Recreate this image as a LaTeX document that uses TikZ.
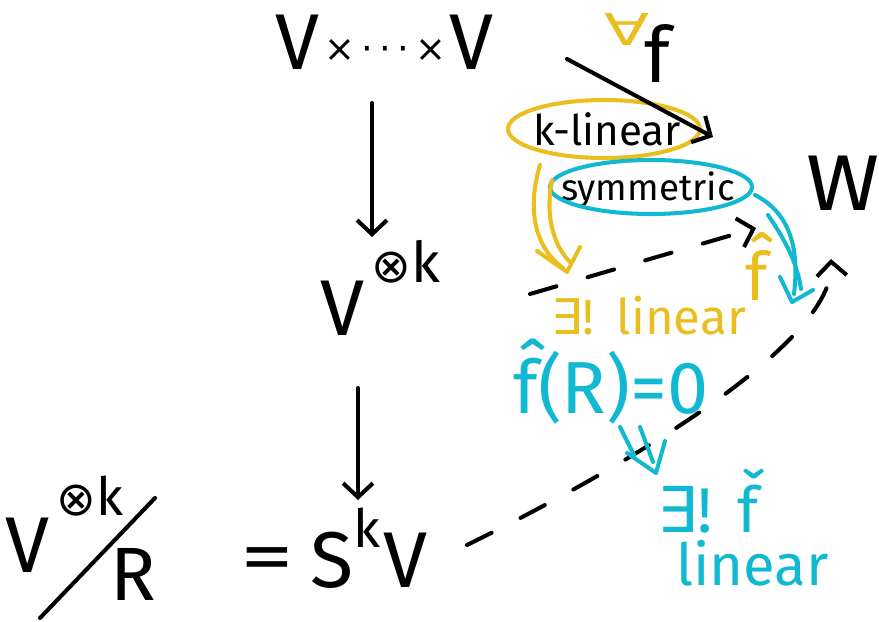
\documentclass[tikz,border=0pt]{standalone}
\usepackage{fontspec}
\setmainfont{Fira Sans}
\newfontfamily\sym{DejaVu Sans}
\usetikzlibrary{arrows.meta}
\definecolor{yel}{RGB}{233,190,30}
\definecolor{cya}{RGB}{16,185,209}
\newcommand{\fs}[1]{\fontsize{#1}{#1}\selectfont}
\begin{document}
\begin{tikzpicture}[x=0.02cm,y=-0.02cm,
  ink/.style={line width=2.3pt,line cap=round,line join=round},
  barb/.style={-{Straight Barb[length=8pt,width=17pt]}},
  dsh/.style={dash pattern=on 0.55cm off 0.65cm},
  lbl/.style={inner sep=0pt,anchor=base west}]
\useasboundingbox (0,0) rectangle (879,622);

% texts
\node[lbl] (prod) at (275,69) {\fs{45}V\hspace{3pt}\raisebox{4pt}{\sym\fs{21}×\,·\,·\,·\,×}\hspace{2pt}V};
\node[lbl] (tens) at (320,335) {\fs{45}V\hspace{4pt}\raisebox{1.06cm}{{\sym\fs{27}⊗}\fs{32}k}};
\node[lbl] (eq) at (240,581) {\scalebox{1.7}[1.15]{\fs{36}=}};
\node[lbl] (sym) at (310,587) {\fs{45}S\raisebox{0.8cm}{\fs{30}k}\hspace{2pt}V};
\node[lbl] (qV) at (5,572) {\fs{45}V\hspace{4pt}\raisebox{1.14cm}{{\sym\fs{27}⊗}\fs{30}k}};
\node[lbl,font=\fs{43}] (qR) at (110,600) {R};
\coordinate (s1) at (40,618);
\coordinate (s2) at (155,498);
\draw[ink] (s1) -- (s2);

\node[lbl] (fa) at (604,82) {\raisebox{0.74cm}{\textcolor{yel}{\scalebox{1.5}[1]{\sym\fs{25}∀}}}\hspace{-3pt}\fs{44}f};
\node[inner sep=0pt,font=\fs{24}] (klin) at (607,129) {k-linear};
\draw[ink,yel] ([xshift=-0.06cm]klin.center) ellipse [x radius=1.92cm, y radius=0.58cm];
\node[inner sep=0pt,anchor=base,font=\fs{21}] (symm) at (648,200) {symmetric};
\draw[ink,cya] (651,187) ellipse [x radius=2.02cm, y radius=0.54cm];
\node[lbl] (W) at (806,210) {\scalebox{1.12}[1]{\fs{45}W}};

\node[lbl,text=yel] (exlin) at (551,334) {\fs{28}{\sym ∃}!\hspace{0.45cm}linear};
\node[lbl,text=yel] (fhat) at (745,300) {\fs{38}f̂};
\node[lbl,text=cya] (fR) at (513,413) {\fs{42}f̂(R)=0};
\node[lbl,text=cya] (exf) at (657,532) {\fs{36}{\sym ∃}!\hspace{0.5cm}f̌};
\node[lbl,text=cya] (lin2) at (676,585) {\fs{33}linear};

% vertical arrows
\coordinate (a1s) at (372,103);
\coordinate (a1e) at (372,237);
\draw[ink,barb] (a1s) -- (a1e);
\coordinate (a2s) at (358,388);
\coordinate (a2e) at (358,500);
\draw[ink,barb] (a2s) -- (a2e);

% f arrow
\coordinate (fs) at (567,59);
\coordinate (fe) at (713,137);
\draw[ink,barb] (fs) -- (fe);

% dashed arrows
\coordinate (d1s) at (530,294);
\coordinate (d1e) at (756,228);
\draw[ink,dsh,barb] (d1s) -- (d1e);
\coordinate (d2s) at (467,545);
\coordinate (d2e) at (831,259);
\draw[ink,dsh,barb] (d2s) .. controls (640,460) and (835,340) .. (d2e);

% yellow double arrow
\coordinate (y1) at (540,165);
\coordinate (y2) at (552,180);
\coordinate (yt) at (567,272);
\draw[ink,yel] (y1) .. controls (528,205) and (532,245) .. (563,268);
\draw[ink,yel] (y2) .. controls (545,215) and (553,245) .. (570,262);
\draw[ink,yel] (537,251) -- (yt) -- (580,247);

% cyan double arrow (symmetric)
\coordinate (c1) at (755,195);
\coordinate (c2) at (768,215);
\coordinate (ct) at (792,302);
\draw[ink,cya] (c1) .. controls (788,212) and (800,245) .. (794,294);
\draw[ink,cya] (c2) .. controls (785,240) and (797,262) .. (801,289);
\draw[ink,cya] (780,277) -- (ct) -- (813,290);

% cyan double arrow (f(R)=0)
\coordinate (e1) at (620,427);
\coordinate (e2) at (640,427);
\coordinate (et) at (656,473);
\draw[ink,cya] (e1) -- (634,455);
\draw[ink,cya] (e2) -- (653,462);
\draw[ink,cya] (627,453) -- (et) -- (665,441);
\end{tikzpicture}
\end{document}
